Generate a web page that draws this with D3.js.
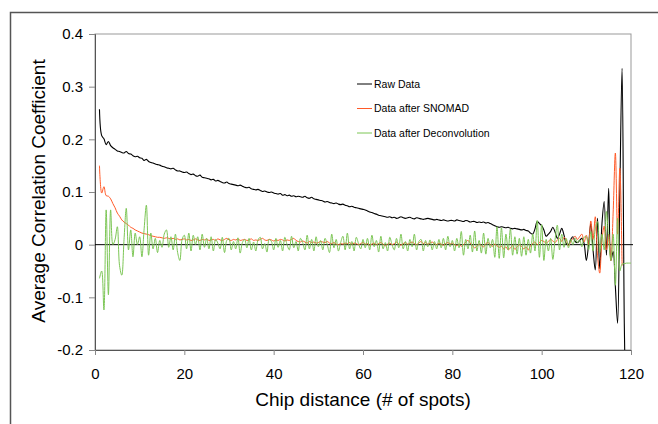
<!DOCTYPE html>
<html>
<head>
<meta charset="utf-8">
<script src="https://cdn.jsdelivr.net/npm/d3@7"></script>
<style>
  body { margin: 0; background: #fff; }
  svg { display: block; font-family: "Liberation Sans", Arial, sans-serif; }
  .axis text { font-size: 15px; fill: #000; }
  .axis .tick line { stroke: #888; }
  .axis path { stroke: #555; }
</style>
</head>
<body>
<svg class="corr-chart" width="658" height="424"></svg>
<script>
// x grid: chip distance 1 .. 120 in steps of 0.5 spots
const distance = d3.range(1, 120.001, 0.5)

// Raw Data (ends where it drops out of the plot)
const rawData = [
  0.257, 0.207, 0.201, 0.190, 0.196, 0.188, 0.184, 0.181, 0.178, 0.177,
  0.175, 0.174, 0.177, 0.173, 0.172, 0.169, 0.167, 0.168, 0.165, 0.164,
  0.160, 0.162, 0.158, 0.156, 0.155, 0.153, 0.152, 0.151, 0.149, 0.148,
  0.146, 0.145, 0.144, 0.145, 0.142, 0.140, 0.140, 0.138, 0.137, 0.138,
  0.135, 0.133, 0.134, 0.131, 0.130, 0.132, 0.128, 0.127, 0.126, 0.125,
  0.123, 0.124, 0.121, 0.122, 0.120, 0.118, 0.117, 0.119, 0.116, 0.115,
  0.114, 0.113, 0.112, 0.113, 0.111, 0.109, 0.108, 0.109, 0.106, 0.105,
  0.104, 0.105, 0.103, 0.101, 0.102, 0.100, 0.099, 0.100, 0.098, 0.097,
  0.096, 0.097, 0.094, 0.095, 0.093, 0.094, 0.092, 0.093, 0.091, 0.092,
  0.091, 0.090, 0.092, 0.089, 0.088, 0.090, 0.087, 0.086, 0.085, 0.084,
  0.083, 0.081, 0.082, 0.080, 0.079, 0.078, 0.079, 0.077, 0.076, 0.077,
  0.075, 0.074, 0.072, 0.073, 0.071, 0.070, 0.069, 0.068, 0.067, 0.066,
  0.064, 0.062, 0.061, 0.059, 0.058, 0.056, 0.055, 0.054, 0.053, 0.052,
  0.053, 0.051, 0.052, 0.050, 0.051, 0.053, 0.051, 0.050, 0.051, 0.052,
  0.050, 0.049, 0.051, 0.050, 0.049, 0.048, 0.049, 0.050, 0.049, 0.048,
  0.047, 0.048, 0.047, 0.046, 0.047, 0.046, 0.045, 0.046, 0.046, 0.045,
  0.047, 0.046, 0.045, 0.044, 0.046, 0.045, 0.043, 0.044, 0.044, 0.042,
  0.043, 0.042, 0.043, 0.041, 0.042, 0.040, 0.038, 0.036, 0.034, 0.033,
  0.034, 0.033, 0.032, 0.033, 0.031, 0.030, 0.031, 0.030, 0.029, 0.028,
  0.029, 0.027, 0.026, 0.022, 0.020, 0.030, 0.044, 0.040, 0.036, 0.028,
  0.016, 0.020, 0.025, 0.033, 0.024, 0.012, 0.020, 0.031, 0.018, 0.002,
  0.000, 0.010, 0.015, 0.006, 0.004, 0.008, 0.012, 0.002, -0.030, 0.000,
  0.040, -0.010, -0.048, 0.050, -0.046, 0.040, 0.082, -0.020, 0.107, -0.030,
  -0.013, -0.080, -0.149, 0.100, 0.335, -0.150, -0.400
]

// Data after SNOMAD
const snomadData = [
  0.150, 0.098, 0.110, 0.093, 0.092, 0.087, 0.078, 0.070, 0.060, 0.054,
  0.047, 0.043, 0.040, 0.037, 0.033, 0.031, 0.028, 0.026, 0.024, 0.022,
  0.021, 0.020, 0.019, 0.017, 0.016, 0.015, 0.014, 0.014, 0.013, 0.012,
  0.013, 0.012, 0.011, 0.012, 0.010, 0.011, 0.009, 0.010, 0.011, 0.009,
  0.010, 0.008, 0.009, 0.011, 0.009, 0.008, 0.010, 0.009, 0.011, 0.008,
  0.009, 0.010, 0.008, 0.011, 0.009, 0.008, 0.010, 0.012, 0.009, 0.008,
  0.010, 0.009, 0.011, 0.008, 0.009, 0.010, 0.008, 0.009, 0.011, 0.008,
  0.009, 0.008, 0.010, 0.012, 0.009, 0.008, 0.010, 0.009, 0.007, 0.009,
  0.008, 0.010, 0.009, 0.007, 0.009, 0.008, 0.010, 0.012, 0.008, 0.006,
  0.005, 0.007, 0.005, 0.003, 0.006, 0.004, 0.005, 0.003, 0.004, 0.006,
  0.005, 0.004, 0.006, 0.003, 0.002, 0.004, 0.001, 0.000, 0.002, 0.001,
  0.003, 0.002, 0.004, 0.001, 0.003, 0.002, 0.000, 0.002, 0.004, 0.001,
  0.002, -0.001, 0.001, 0.003, 0.000, 0.002, 0.004, 0.001, -0.002, 0.001,
  0.003, 0.000, 0.002, 0.005, 0.001, -0.001, 0.002, 0.004, 0.001, 0.003,
  0.005, 0.002, 0.000, 0.003, 0.006, 0.002, 0.004, 0.001, 0.003, 0.005,
  0.002, 0.000, 0.003, 0.001, -0.001, 0.002, 0.004, 0.001, 0.003, 0.000,
  -0.002, 0.001, -0.003, 0.000, 0.005, 0.008, 0.003, -0.002, -0.006, -0.003,
  0.001, -0.002, -0.004, 0.002, 0.004, 0.000, -0.003, 0.001, -0.002, -0.005,
  -0.003, -0.008, -0.004, -0.010, -0.006, -0.002, -0.009, -0.004, 0.000, -0.003,
  -0.008, -0.004, -0.010, -0.002, 0.002, 0.005, 0.000, 0.004, 0.008, 0.006,
  0.003, 0.006, 0.010, 0.007, 0.004, 0.009, 0.012, 0.006, 0.014, 0.009,
  -0.002, 0.006, 0.012, 0.016, 0.010, 0.015, 0.020, 0.005, 0.018, 0.000,
  0.045, 0.010, 0.053, -0.020, -0.054, 0.010, 0.035, -0.010, 0.020, -0.030,
  0.060, 0.174, 0.020, 0.145, -0.040
]

// Data after Deconvolution
const deconvData = [
  -0.064, -0.050, -0.124, 0.066, -0.095, 0.066, 0.000, 0.010, 0.034, -0.040,
  -0.058, 0.010, 0.069, -0.010, 0.028, -0.023, 0.022, 0.000, 0.015, -0.023,
  0.030, 0.075, -0.020, 0.022, -0.008, 0.012, -0.015, 0.008, -0.005, 0.020,
  0.028, -0.005, 0.015, -0.010, 0.020, -0.015, -0.030, 0.010, 0.018, -0.008,
  0.022, -0.012, 0.018, 0.000, 0.015, -0.010, 0.020, -0.005, 0.012, -0.008,
  0.015, -0.012, 0.010, 0.003, -0.008, 0.014, -0.015, 0.008, 0.012, -0.010,
  0.006, -0.008, 0.013, -0.016, 0.004, 0.010, -0.006, 0.012, -0.010, 0.005,
  -0.012, 0.009, 0.014, -0.008, 0.002, -0.014, 0.010, 0.006, -0.010, 0.012,
  -0.005, 0.008, -0.012, 0.014, 0.000, -0.010, 0.016, -0.006, 0.006, -0.012,
  0.012, 0.004, -0.010, 0.018, -0.008, 0.010, -0.012, 0.015, -0.004, 0.008,
  -0.010, 0.012, 0.000, -0.015, 0.020, -0.006, 0.010, -0.012, 0.004, 0.016,
  -0.010, 0.022, -0.008, 0.006, -0.012, 0.014, 0.002, -0.008, 0.010, -0.006,
  0.012, -0.010, 0.018, -0.004, 0.008, -0.014, 0.016, -0.008, 0.004, -0.012,
  0.014, 0.000, -0.010, 0.012, -0.006, 0.020, -0.008, 0.006, -0.012, 0.010,
  -0.004, 0.020, -0.010, 0.006, 0.010, -0.012, 0.008, -0.004, 0.009, -0.010,
  0.006, -0.008, 0.010, -0.006, 0.012, -0.010, 0.016, -0.004, 0.008, -0.012,
  0.012, -0.006, 0.025, -0.020, 0.010, -0.008, 0.018, -0.014, 0.026, -0.012,
  0.008, -0.016, 0.022, -0.018, 0.012, -0.006, 0.010, -0.024, 0.034, -0.026,
  0.032, -0.025, 0.020, -0.010, 0.030, -0.020, 0.015, -0.018, 0.012, -0.022,
  0.015, -0.020, 0.010, -0.016, 0.020, -0.012, 0.046, -0.024, 0.038, -0.030,
  0.010, -0.012, 0.012, -0.028, 0.010, 0.037, -0.010, 0.020, -0.005, 0.012,
  -0.006, 0.010, 0.000, 0.012, 0.004, 0.009, -0.004, 0.014, 0.015, -0.010,
  0.025, -0.012, 0.030, 0.044, -0.015, 0.020, -0.010, 0.063, 0.010, -0.030,
  0.020, -0.077, 0.050, -0.050, -0.037, -0.036, -0.035, -0.035, -0.035
]

const seriesNames = ['Raw Data', 'Data after SNOMAD', 'Data after Deconvolution']
const seriesColors = ['#000000', '#ff5a28', '#7cc655']
const xTicks = [0, 20, 40, 60, 80, 100, 120]
const yTicks = [-0.2, -0.1, 0, 0.1, 0.2, 0.3, 0.4]

const svg = d3.select('svg.corr-chart')
const plot = {left: 95, right: 631, top: 34, bottom: 350}

const x = d3.scaleLinear().domain([0, 120]).range([plot.left, plot.right])
const y = d3.scaleLinear().domain([-0.2, 0.4]).range([plot.bottom, plot.top])

// outer frame (runs off the right and bottom edge)
svg.append('rect')
  .attr('x', 10.5).attr('y', 12.5)
  .attr('width', 700).attr('height', 500)
  .attr('fill', 'none').attr('stroke', '#555').attr('stroke-width', 1.5)

// plot frame
svg.append('rect')
  .attr('x', plot.left).attr('y', plot.top)
  .attr('width', plot.right - plot.left).attr('height', plot.bottom - plot.top)
  .attr('fill', 'none').attr('stroke', '#999').attr('stroke-width', 1)

svg.append('clipPath').attr('id', 'plot-clip')
  .append('rect')
  .attr('x', plot.left).attr('y', plot.top)
  .attr('width', plot.right - plot.left).attr('height', plot.bottom - plot.top)

svg.append('g')
  .attr('class', 'axis')
  .attr('transform', `translate(${plot.left},0)`)
  .call(d3.axisLeft(y).tickValues(yTicks).tickSize(6).tickPadding(6)
    .tickFormat(d => d === 0 ? '0' : d.toFixed(1)))

svg.append('g')
  .attr('class', 'axis')
  .attr('transform', `translate(0,${plot.bottom})`)
  .call(d3.axisBottom(x).tickValues(xTicks).tickSize(5).tickPadding(13))

// zero line
svg.append('line')
  .attr('x1', plot.left).attr('x2', plot.right + 2)
  .attr('y1', y(0)).attr('y2', y(0))
  .attr('stroke', '#000').attr('stroke-width', 1)

const line = d3.line()
  .x((d, i) => x(distance[i]))
  .y(d => y(d))
  .curve(d3.curveCatmullRom)

const lines = svg.append('g').attr('clip-path', 'url(#plot-clip)')
;[rawData, snomadData, deconvData].forEach((data, i) => {
  lines.append('path')
    .datum(data)
    .attr('d', line)
    .attr('fill', 'none')
    .attr('stroke', seriesColors[i])
    .attr('stroke-width', i === 0 ? 1.1 : 1)
    .attr('stroke-linejoin', 'round')
})

// legend
const legend = svg.append('g').attr('transform', 'translate(357,84)')
seriesNames.forEach((name, i) => {
  const row = legend.append('g').attr('transform', `translate(0,${i * 24.5})`)
  row.append('line')
    .attr('x1', 0).attr('x2', 15)
    .attr('stroke', seriesColors[i]).attr('stroke-width', 1)
  row.append('text')
    .attr('x', 17).attr('dy', '0.35em')
    .style('font-size', '10.5px')
    .text(name)
})

// axis titles
svg.append('text')
  .attr('x', (plot.left + plot.right) / 2).attr('y', 406)
  .attr('text-anchor', 'middle')
  .style('font-size', '19px')
  .text('Chip distance (# of spots)')

svg.append('text')
  .attr('transform', `translate(45,${(plot.top + plot.bottom) / 2 - 1}) rotate(-90)`)
  .attr('text-anchor', 'middle')
  .style('font-size', '19px')
  .text('Average Correlation Coefficient')
</script>
</body>
</html>
